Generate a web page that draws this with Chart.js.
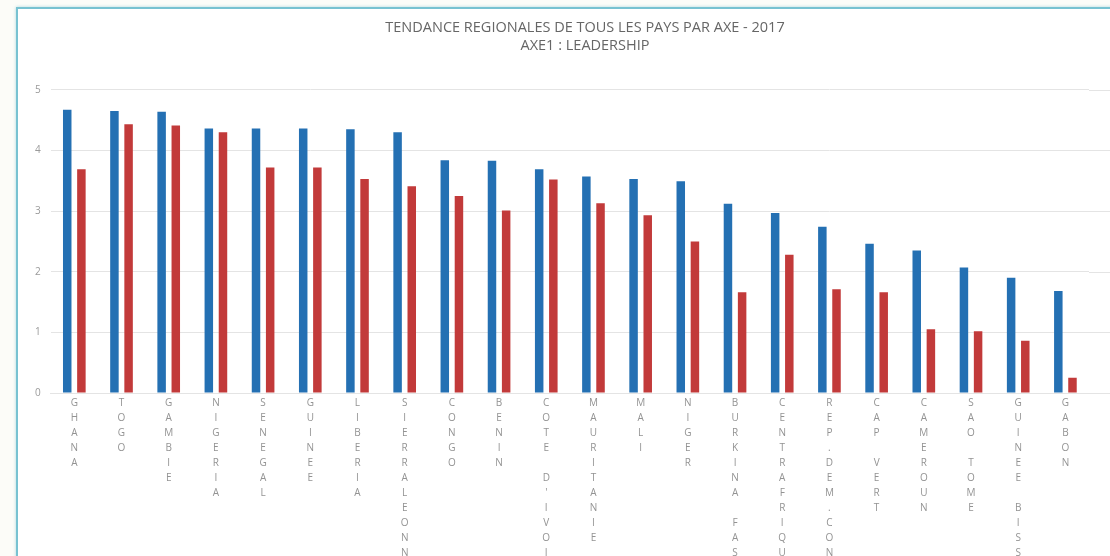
<!DOCTYPE html>
<html>
<head>
<meta charset="utf-8">
<script src="https://cdn.jsdelivr.net/npm/chart.js@4.4.1/dist/chart.umd.min.js"></script>
<style>
    html, body {
        margin: 0;
        padding: 0;
        width: 1110px;
        height: 556px;
        overflow: hidden;
        background: #fcfcf8;
    }
    #panel {
        position: absolute;
        left: 16px;
        top: 7px;
        width: 1200px;
        height: 700px;
        background: #fff;
        border-left: 2px solid #78c2d1;
        border-top: 2px solid #78c2d1;
        box-shadow: 0 0 3px rgba(120, 194, 209, 0.6);
    }
</style>
</head>
<body>
<div id="panel">
    <canvas id="myChart" width="1127" height="585"></canvas>
</div>
<script>
    // pays, dans l'ordre du graphique
    var Pays = ["GHANA", "TOGO", "GAMBIE", "NIGERIA", "SENEGAL", "GUINEE", "LIBERIA", "SIERRALEONNE",
        "CONGO", "BENIN", "COTE D'IVOIRE", "MAURITANIE", "MALI", "NIGER", "BURKINA FASO",
        "CENTRAFRIQUE", "REP.DEM.CONGO", "CAP VERT", "CAMEROUN", "SAO TOME", "GUINEE BISSAU", "GABON"];

    // scores axe 1 (leadership)
    var ScoreBleu = [4.67, 4.65, 4.64, 4.36, 4.36, 4.36, 4.35, 4.30, 3.84, 3.83, 3.69,
        3.57, 3.53, 3.49, 3.12, 2.97, 2.74, 2.46, 2.35, 2.07, 1.90, 1.68];
    var ScoreRouge = [3.69, 4.43, 4.41, 4.30, 3.72, 3.72, 3.53, 3.41, 3.25, 3.01, 3.52,
        3.13, 2.93, 2.50, 1.66, 2.28, 1.71, 1.66, 1.05, 1.02, 0.86, 0.25];

    var YTicks = [0, 1, 2, 3, 4, 5];

    // une lettre par ligne sous chaque barre
    var Labels = Pays.map(p => p.split(''));

    var gridColor = '#e4e4e4';

    // prolonge les lignes horizontales jusqu'au bord du canvas
    var gridTail = {
        id: 'gridTail',
        beforeDatasetsDraw(chart) {
            var ctx = chart.ctx,
                area = chart.chartArea,
                y = chart.scales.y;
            ctx.save();
            ctx.strokeStyle = gridColor;
            ctx.lineWidth = 1;
            YTicks.forEach(v => {
                var py = Math.round(y.getPixelForValue(v)) + 0.5;
                ctx.beginPath();
                ctx.moveTo(area.right, py);
                ctx.lineTo(chart.width, py);
                ctx.stroke();
            });
            ctx.restore();
        }
    };

    var ctx = document.getElementById('myChart').getContext('2d');
    var myChart = new Chart(ctx, {
        type: 'bar',
        data: {
            labels: Labels,
            datasets: [{
                label: '2017',
                data: ScoreBleu,
                backgroundColor: '#2470b3',
                categoryPercentage: 0.6,
                barPercentage: 0.6
            }, {
                label: '2016',
                data: ScoreRouge,
                backgroundColor: '#c23a3a',
                categoryPercentage: 0.6,
                barPercentage: 0.6
            }]
        },
        options: {
            responsive: false,
            animation: false,
            layout: {
                padding: { left: 7, right: 0, top: 0, bottom: 0 }
            },
            plugins: {
                legend: { display: false },
                tooltip: { enabled: false },
                title: {
                    display: true,
                    text: 'TENDANCE REGIONALES DE TOUS LES PAYS PAR AXE - 2017',
                    color: '#666',
                    font: { family: 'Open Sans', size: 14.5, weight: 'normal' },
                    padding: { top: 10, bottom: 0 }
                },
                subtitle: {
                    display: true,
                    text: 'AXE1 : LEADERSHIP',
                    color: '#666',
                    font: { family: 'Open Sans', size: 14.5 },
                    padding: { top: 1, bottom: 35 }
                }
            },
            scales: {
                x: {
                    grid: { display: false, drawTicks: false },
                    border: { display: true, color: gridColor },
                    ticks: {
                        color: '#939393',
                        font: { family: 'Open Sans', size: 10, lineHeight: 1.5 },
                        maxRotation: 0,
                        autoSkip: false,
                        padding: 3
                    }
                },
                y: {
                    min: 0,
                    max: 5,
                    afterBuildTicks: axis => {
                        axis.ticks = YTicks.map(v => ({ value: v }));
                    },
                    grid: { color: gridColor, drawTicks: false },
                    border: { display: false },
                    ticks: {
                        color: '#9a9a9a',
                        font: { family: 'Open Sans', size: 10 },
                        padding: 10
                    }
                },
                // marge vide à droite du graphique
                marge: {
                    position: 'right',
                    display: true,
                    grid: { display: false, drawTicks: false },
                    border: { display: false },
                    ticks: { display: false },
                    afterFit: axis => {
                        axis.width = 56;
                    }
                }
            }
        },
        plugins: [gridTail]
    });
</script>
</body>
</html>
